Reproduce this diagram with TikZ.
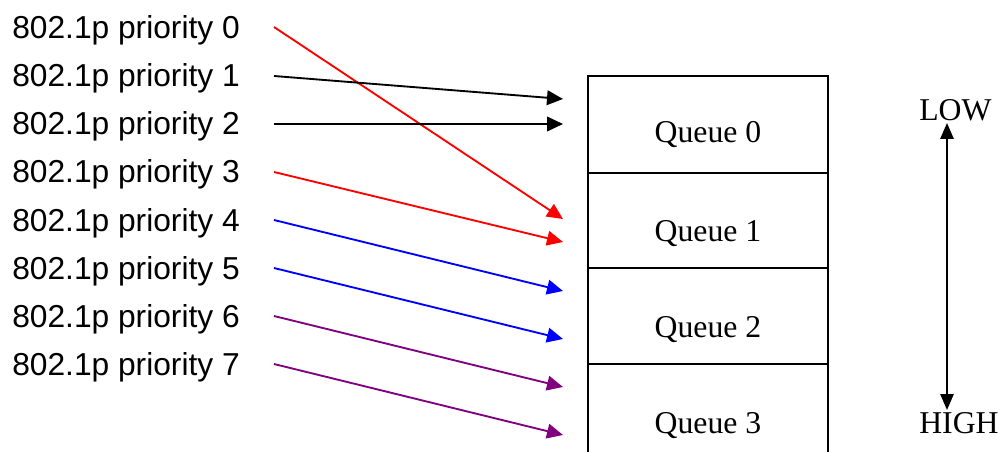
\documentclass[tikz,border=0pt]{standalone}
\usepackage{fontspec}
\setmainfont{Liberation Serif}
\newfontfamily\arialfont{Liberation Sans}
\usetikzlibrary{arrows.meta}
\definecolor{pur}{RGB}{128,0,128}
\begin{document}
\begin{tikzpicture}[x=0.75pt,y=-0.75pt,
  lbl/.style={anchor=base west,inner sep=0pt,font=\arialfont\fontsize{23.8}{28}\selectfont},
  qcell/.style={draw,line width=1.4pt,minimum width=180pt,inner sep=0pt,anchor=north west},
  qtxt/.style={anchor=base,inner sep=0pt,font=\fontsize{23.8}{28}\selectfont},
  conn/.style={line width=1.4pt,-{Triangle[length=12pt,width=11pt]}},
  scalearr/.style={line width=1.4pt,{Triangle[length=12pt,width=10pt]}-{Triangle[length=12pt,width=10pt]}}]
\clip (0,0) rectangle (998,452);
\fill[white] (0,0) rectangle (998,452);
% labels
\foreach \i/\yb in {0/39,1/87,2/135,3/183,4/231,5/279,6/327,7/375}{
  \node[lbl] (p\i) at (12,\yb) {802.1p priority \i};
}
% start coordinates
\foreach \i/\ys in {0/27,1/76,2/124,3/172,4/220,5/268,6/316,7/364}{
  \coordinate (s\i) at (274,\ys);
}
% tip coordinates
\coordinate (t0) at (563,219);
\coordinate (t1) at (563,99);
\coordinate (t2) at (563,124);
\coordinate (t3) at (563,242);
\coordinate (t4) at (563,291);
\coordinate (t5) at (563,339);
\coordinate (t6) at (563,387);
\coordinate (t7) at (563,435);
% queue cells
\node[qcell,minimum height=72.75pt] (q0) at (587,75) {};
\node[qcell,minimum height=71.25pt] (q1) at (587,172) {};
\node[qcell,minimum height=72pt] (q2) at (587,267) {};
\node[qcell,minimum height=72pt] (q3) at (587,363) {};
\node[qtxt] (l0) at (708,143) {Queue 0};
\node[qtxt] (l1) at (708,241) {Queue 1};
\node[qtxt] (l2) at (708,337) {Queue 2};
\node[qtxt] (l3) at (708,433) {Queue 3};
% connectors
\draw[conn,red] (s0) -- (t0);
\draw[conn,black] (s1) -- (t1);
\draw[conn,black] (s2) -- (t2);
\draw[conn,red] (s3) -- (t3);
\draw[conn,blue] (s4) -- (t4);
\draw[conn,blue] (s5) -- (t5);
\draw[conn,pur] (s6) -- (t6);
\draw[conn,pur] (s7) -- (t7);
% scale
\node[anchor=base west,inner sep=0pt,font=\fontsize{23.8}{28}\selectfont] (low) at (919,121) {LOW};
\node[anchor=base west,inner sep=0pt,font=\fontsize{23.8}{28}\selectfont] (high) at (919,433) {HIGH};
\coordinate (a1) at (947,123);
\coordinate (a2) at (947,410);
\draw[scalearr] (a1) -- (a2);
\end{tikzpicture}
\end{document}
